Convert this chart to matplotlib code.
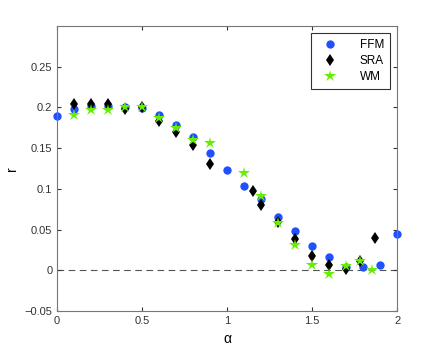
import matplotlib
matplotlib.use("Agg")
import matplotlib.pyplot as plt

plt.rcParams["font.family"] = ["Liberation Sans", "DejaVu Sans"]

# FFM
ffm_x = [0, 0.1, 0.2, 0.3, 0.4, 0.5, 0.6, 0.7, 0.8, 0.9, 1.0, 1.1, 1.2, 1.3, 1.4, 1.5, 1.6, 1.7, 1.8, 1.9, 2.0]
ffm_y = [0.190, 0.198, 0.202, 0.202, 0.200, 0.199, 0.191, 0.179, 0.164, 0.144, 0.123, 0.103, 0.087, 0.065, 0.048, 0.030, 0.016, 0.004, 0.004, 0.007, 0.045]

# SRA
sra_x = [0.1, 0.2, 0.3, 0.4, 0.5, 0.6, 0.7, 0.8, 0.9, 1.15, 1.2, 1.3, 1.4, 1.5, 1.6, 1.7, 1.78, 1.87]
sra_y = [0.204, 0.204, 0.204, 0.198, 0.200, 0.183, 0.170, 0.154, 0.131, 0.097, 0.080, 0.059, 0.038, 0.018, 0.0065, 0.002, 0.011, 0.040]

# WM
wm_x = [0.1, 0.2, 0.3, 0.4, 0.5, 0.6, 0.7, 0.8, 0.9, 1.1, 1.2, 1.3, 1.4, 1.5, 1.6, 1.7, 1.78, 1.85]
wm_y = [0.191, 0.197, 0.197, 0.201, 0.201, 0.187, 0.175, 0.160, 0.156, 0.119, 0.091, 0.058, 0.031, 0.007, -0.005, 0.005, 0.011, 0.0]

fig = plt.figure(figsize=(4.36, 3.5), dpi=100)
ax = fig.add_axes([0.131, 0.111, 0.78, 0.815])

ax.axhline(0, color="#555555", linestyle=(0, (6, 4)), linewidth=0.8, zorder=1)
ax.plot(ffm_x, ffm_y, "o", color="#2050ff", markersize=6, markeredgewidth=0, label="FFM", zorder=2, clip_on=False)
ax.plot(sra_x, sra_y, "d", color="black", markersize=6, markeredgewidth=0, label="SRA", zorder=3)
ax.plot(wm_x, wm_y, "*", color="#66ee00", markersize=9, markeredgewidth=0, label="WM", zorder=4)

ax.set_xlim(0, 2)
ax.set_ylim(-0.05, 0.3)
ax.set_xticks([0, 0.5, 1, 1.5, 2])
ax.set_xticklabels(["0", "0.5", "1", "1.5", "2"])
ax.set_yticks([-0.05, 0, 0.05, 0.1, 0.15, 0.2, 0.25])
ax.set_yticklabels(["\u22120.05", "0", "0.05", "0.1", "0.15", "0.2", "0.25"])
ax.tick_params(direction="in", labelsize=8, length=3, top=True, right=True, colors="#333333")
for s in ax.spines.values():
    s.set_color("#777777")
    s.set_linewidth(0.8)

ax.set_xlabel("\u03b1", fontsize=10)
ax.set_ylabel("r", fontsize=10)

leg = ax.legend(loc="upper right", fontsize=8.5, frameon=True, fancybox=False, borderaxespad=0.6,
                handletextpad=1.4, labelspacing=0.35, borderpad=0.5, handlelength=2.2)
leg.get_frame().set_edgecolor("black")
leg.get_frame().set_linewidth(0.8)

fig.savefig("out.png", dpi=100)
